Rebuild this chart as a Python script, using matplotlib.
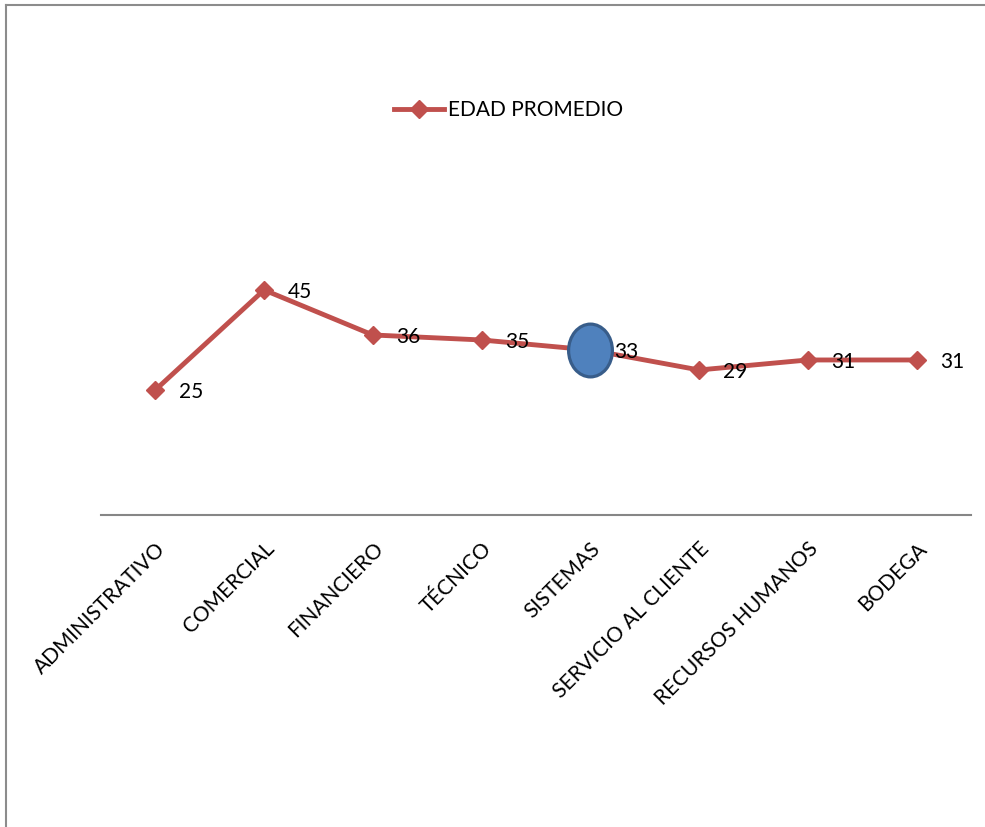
import matplotlib.pyplot as plt
from matplotlib.lines import Line2D
from matplotlib.path import Path
from matplotlib.transforms import Affine2D

areas = ['ADMINISTRATIVO', 'COMERCIAL', 'FINANCIERO', 'TÉCNICO', 'SISTEMAS',
         'SERVICIO AL CLIENTE', 'RECURSOS HUMANOS', 'BODEGA']
edad = [25, 45, 36, 35, 33, 29, 31, 31]
resaltado = 4  # SISTEMAS

plt.rcParams['font.family'] = ['Lato', 'DejaVu Sans']

fig = plt.figure(figsize=(9.85, 8.27), dpi=100)
ax = fig.add_axes([0.1025, 0.3773, 0.8832, 0.3023])

x = list(range(len(areas)))
ax.plot(x, edad, color='#C0504D', lw=3.5, marker='D', ms=9,
        label='EDAD PROMEDIO', zorder=3, clip_on=False)

# circulo azul sobre SISTEMAS
elipse = Path.unit_circle().transformed(Affine2D().scale(0.83, 1))
ax.plot([x[resaltado]], [edad[resaltado]], marker=elipse, ms=38, ls='none',
        mfc='#4F81BD', mec='#385D8A', mew=2.3, zorder=4, clip_on=False)

for xi, v in zip(x, edad):
    ax.annotate(str(v), (xi, v), xytext=(17, -1.5), textcoords='offset points',
                ha='left', va='center', fontsize=15, zorder=5)

ax.set_xlim(-0.5, len(areas) - 0.5)
ax.set_ylim(0, 50)
ax.set_xticks(x)
ax.set_xticklabels(areas, rotation=45, ha='right', rotation_mode='anchor',
                   fontsize=15)
ax.tick_params(axis='x', length=0, pad=17)
ax.set_yticks([])
for s in ['top', 'right', 'left']:
    ax.spines[s].set_visible(False)
ax.spines['bottom'].set_color('#868686')
ax.spines['bottom'].set_linewidth(1.5)

fig.legend(loc='center', bbox_to_anchor=(0.516, 0.867), frameon=False,
           fontsize=15, handlelength=2.4, handletextpad=0.2)

# borde del grafico
fig.add_artist(Line2D([0.0065, 0.0065], [0, 0.994], color='#8c8c8c', lw=1.5,
                      transform=fig.transFigure))
fig.add_artist(Line2D([0.0065, 1], [0.994, 0.994], color='#8c8c8c', lw=1.5,
                      transform=fig.transFigure))

fig.savefig('out.png', dpi=100)
